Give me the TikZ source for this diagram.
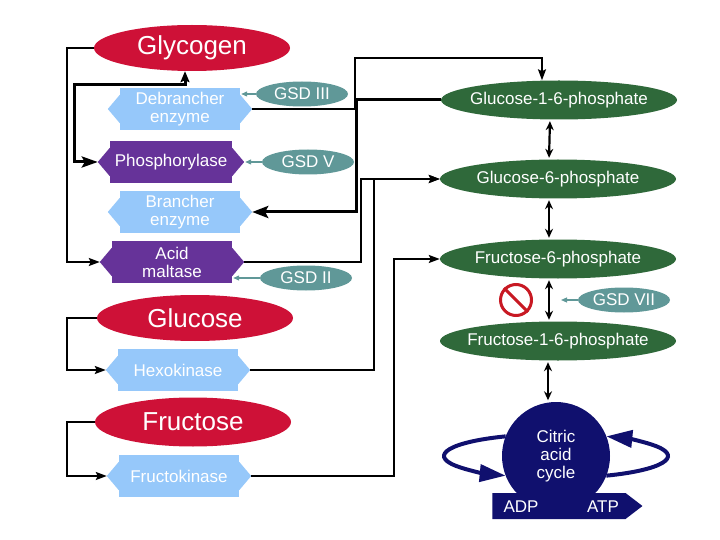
\documentclass[tikz,border=0pt]{standalone}
\usepackage{fontspec}
\setmainfont{Liberation Sans}
\usetikzlibrary{arrows.meta,shapes.geometric,shapes.symbols}
\definecolor{sugarred}{RGB}{206,17,55}
\definecolor{enzblue}{RGB}{150,200,250}
\definecolor{enzpurple}{RGB}{102,51,153}
\definecolor{phosgreen}{RGB}{47,105,58}
\definecolor{gsdteal}{RGB}{96,152,152}
\definecolor{tcanavy}{RGB}{16,16,110}
\definecolor{stopred}{RGB}{200,25,35}
\tikzset{
	sugar/.style={ellipse, fill=sugarred, text=white, inner sep=0pt, minimum width=196pt, minimum height=46pt, font=\fontsize{26}{28}\selectfont},
	enzyme/.style={rectangle, fill=#1, text=white, inner sep=0pt, align=center, minimum width=120pt, minimum height=42pt, font=\fontsize{17}{18}\selectfont},
	metab/.style={ellipse, fill=phosgreen, text=white, inner ysep=0pt, inner xsep=-10pt, minimum width=236pt, minimum height=39pt, font=\fontsize{17}{18}\selectfont},
	gsd/.style={ellipse, fill=gsdteal, text=white, inner sep=0pt, minimum width=92pt, minimum height=25pt, font=\fontsize{17}{18}\selectfont},
	lbl/.style={text=white, inner sep=0pt, font=\fontsize{17}{18}\selectfont},
	flow/.style={line width=1.8pt, -{Stealth[length=11pt,width=8pt,inset=2pt]}},
	bigflow/.style={line width=3pt, -{Stealth[length=16pt,width=12pt,inset=3pt]}},
	dbl/.style={line width=2.2pt, {Stealth[length=9pt,width=8pt]}-{Stealth[length=9pt,width=8pt]}, shorten <=1.5pt, shorten >=1.5pt},
	inh/.style={gsdteal, line width=1.2pt, shorten >=1pt, -{Triangle[length=6pt,width=5pt]}},
	ring/.style={tcanavy, line width=4pt, -{Triangle[length=26pt,width=17pt]}},
}
\begin{document}
\begin{tikzpicture}[x=1pt, y=-1pt]
	\useasboundingbox (0,0) rectangle (720,540);
	\node[sugar] (glyc) at (192,48) {Glycogen};
	\node[enzyme=enzblue] (debr) at (180,109) {Debrancher\\enzyme};
	\node[enzyme=enzpurple, minimum width=122pt] (phos) at (171,162) {Phosphorylase};
	\node[enzyme=enzblue] (bran) at (180,212) {Brancher\\enzyme};
	\node[enzyme=enzpurple] (acid) at (172,262) {Acid\\maltase};
	\node[sugar] (gluc) at (195,318) {Glucose};
	\node[enzyme=enzblue] (hexo) at (178,370) {Hexokinase};
	\node[sugar, minimum height=49pt] (fruc) at (193,422) {Fructose};
	\node[enzyme=enzblue] (fruk) at (179,476) {Fructokinase};
	\foreach \n/\c in {debr/enzblue,phos/enzpurple,bran/enzblue,acid/enzpurple,hexo/enzblue,fruk/enzblue} {
		\fill[\c] ([yshift=-7pt]\n.north west) -- ([xshift=-12pt]\n.west) -- ([yshift=7pt]\n.south west) -- cycle;
		\fill[\c] ([yshift=-7pt]\n.north east) -- ([xshift=12pt]\n.east) -- ([yshift=7pt]\n.south east) -- cycle;
	}
	\node[metab] (g1p) at (559,100) {Glucose-1-6-phosphate};
	\node[metab] (g6p) at (558,179) {Glucose-6-phosphate};
	\node[metab] (f6p) at (558,259) {Fructose-6-phosphate};
	\node[metab] (f16p) at (558,341) {Fructose-1-6-phosphate};
	\node[gsd] (gsd3) at (302,94) {GSD III};
	\node[gsd] (gsd5) at (308,162) {GSD V};
	\node[gsd] (gsd2) at (306,278) {GSD II};
	\node[gsd] (gsd7) at (624,300) {GSD VII};
	\coordinate (gsd7tip) at (560,300);
	\node[circle, draw=stopred, line width=3pt, fill=white, minimum size=31pt, inner sep=0pt] (nosign) at (516,300) {};
	\draw[stopred, line width=3pt] (nosign.north west) -- (nosign.south east);
	\node[circle, fill=tcanavy, text=white, minimum size=108pt, inner sep=0pt, align=center, font=\fontsize{17}{18}\selectfont] (tca) at (556,456) {Citric\\acid\\cycle};
	\draw[ring] ([shift={(116.7:112pt and 22pt)}]tca.center) arc[start angle=116.7, end angle=243.3, x radius=112pt, y radius=22pt];
	\draw[ring] ([shift={(-63.3:112pt and 22pt)}]tca.center) arc[start angle=-63.3, end angle=63.3, x radius=112pt, y radius=22pt];
	\node[signal, signal to=east, signal pointer angle=75, fill=tcanavy, minimum width=150pt, minimum height=26pt, inner sep=0pt] (bar) at (559,506) {};
	\node[lbl] (adp) at (521,507) {ADP};
	\node[lbl] (atp) at (603,507) {ATP};
	\draw[flow] (glyc.west) -- ++(-27,0) |- ([xshift=-12pt]acid.west);
	\draw[line width=3pt, {Stealth[length=11pt,width=9pt,inset=2pt]}-{Stealth[length=16pt,width=11pt,inset=3pt]}] ([xshift=-7pt]glyc.south) -- ++(0,13) -| ([xshift=-35pt]phos.west) -- ([xshift=-12pt]phos.west);
	\draw[flow] ([xshift=12pt]debr.east) -| ++(103,-51) -| ([xshift=-17pt]g1p.north);
	\draw[bigflow] (g1p.west) -- ++(-84,0) |- ([xshift=12pt]bran.east);
	\draw[flow, line width=2.4pt] ([xshift=12pt]acid.east) -- ++(117,0) |- (g6p.west);
	\draw[flow, line width=2.4pt] ([xshift=12pt]hexo.east) -- ++(124,0) |- (g6p.west);
	\draw[flow] ([xshift=12pt]fruk.east) -- ++(143,0) |- (f6p.west);
	\draw[flow] (gluc.west) -- ++(-30,0) |- ([xshift=-12pt]hexo.west);
	\draw[flow] (fruc.west) -- ++(-28,0) |- ([xshift=-12pt]fruk.west);
	\foreach \a/\b in {g1p/g6p,g6p/f6p,f6p/f16p}
		\draw[dbl] ([xshift=-9pt]\a.south) -- ([xshift=-9pt]\b.north);
	\draw[dbl] ([xshift=-10pt]f16p.south) -- ([xshift=-8pt]tca.north);
	\draw[inh] (gsd3.west) -- (gsd3.west -| debr.east);
	\draw[inh] (gsd5.west) -- ([xshift=12pt]phos.east);
	\draw[inh] (gsd2.west) -- (gsd2.west -| acid.east);
	\draw[inh] (gsd7.west) -- (gsd7tip);
\end{tikzpicture}
\end{document}
